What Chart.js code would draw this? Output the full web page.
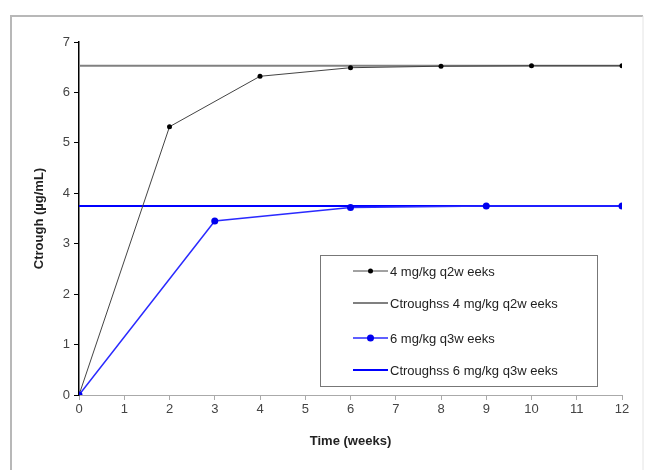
<!DOCTYPE html>
<html>
<head>
<meta charset="utf-8">
<script src="https://cdn.jsdelivr.net/npm/chart.js@4.4.0/dist/chart.umd.min.js"></script>
<style>
  html, body { margin: 0; padding: 0; background: #fff; }
  #wrap { width: 648px; height: 470px; position: relative; }
</style>
</head>
<body>
<div id="wrap"><canvas id="canvas" width="648" height="470"></canvas></div>
<script>
// values
const weeksQ2 = [0, 2, 4, 6, 8, 10, 12];
const ctroughQ2 = [0, 5.32, 6.32, 6.49, 6.52, 6.53, 6.53];
const weeksQ3 = [0, 3, 6, 9, 12];
const ctroughQ3 = [0, 3.45, 3.72, 3.75, 3.75];
const ssRange = [0, 12];
const ssQ2 = 6.53;
const ssQ3 = 3.75;
const labels = ['4 mg/kg q2w eeks', 'Ctroughss 4 mg/kg q2w eeks', '6 mg/kg q3w eeks', 'Ctroughss 6 mg/kg q3w eeks'];

const pts = (xs, ys) => xs.map((x, i) => ({ x: x, y: ys[i] }));

// frame round the picture, like the pasted office chart
const framePlugin = {
  id: 'frame',
  beforeDraw(chart) {
    const c = chart.ctx;
    c.save();
    c.fillStyle = '#fff';
    c.fillRect(0, 0, chart.width, chart.height);
    c.strokeStyle = '#b8b8b8';
    c.lineWidth = 2;
    c.beginPath();
    c.moveTo(11, 470);
    c.lineTo(11, 16);
    c.lineTo(643, 16);
    c.stroke();
    c.strokeStyle = '#e4e4e4';
    c.lineWidth = 1;
    c.beginPath();
    c.moveTo(643, 16);
    c.lineTo(643, 470);
    c.stroke();
    c.restore();
  }
};

// boxed legend inside the plot
const boxLegend = {
  id: 'boxLegend',
  afterDatasetsDraw(chart) {
    const c = chart.ctx;
    const box = { x: 320, y: 255, w: 277, h: 131 };
    const rows = [271, 303, 338, 370];
    c.save();
    c.fillStyle = '#fff';
    c.fillRect(box.x, box.y, box.w, box.h);
    c.strokeStyle = '#777';
    c.lineWidth = 1;
    c.strokeRect(box.x + 0.5, box.y + 0.5, box.w, box.h);
    chart.data.datasets.forEach((ds, i) => {
      const y = rows[i];
      c.strokeStyle = ds.borderColor;
      c.lineWidth = ds.borderWidth;
      c.beginPath();
      c.moveTo(353, y);
      c.lineTo(388, y);
      c.stroke();
      if (ds.pointRadius > 0) {
        c.fillStyle = ds.pointBackgroundColor;
        c.beginPath();
        c.arc(370.5, y, ds.pointRadius, 0, Math.PI * 2);
        c.fill();
      }
      c.fillStyle = '#222';
      c.font = '13px "Liberation Sans", Arial, sans-serif';
      c.textBaseline = 'middle';
      c.fillText(ds.label, 390, y + 1);
    });
    c.restore();
  }
};

new Chart(document.getElementById('canvas').getContext('2d'), {
  type: 'line',
  data: {
    datasets: [
      {
        label: labels[0],
        data: pts(weeksQ2, ctroughQ2),
        borderColor: '#444',
        borderWidth: 1,
        pointRadius: 2.5,
        pointBackgroundColor: '#000',
        pointBorderWidth: 0,
        order: 1
      },
      {
        label: labels[1],
        data: pts(ssRange, [ssQ2, ssQ2]),
        borderColor: '#808080',
        borderWidth: 2,
        pointRadius: 0,
        order: 3
      },
      {
        label: labels[2],
        data: pts(weeksQ3, ctroughQ3),
        borderColor: '#2a2aff',
        borderWidth: 1.5,
        pointRadius: 3.5,
        pointBackgroundColor: '#0000ee',
        pointBorderWidth: 0,
        order: 0
      },
      {
        label: labels[3],
        data: pts(ssRange, [ssQ3, ssQ3]),
        borderColor: '#0000ff',
        borderWidth: 2,
        pointRadius: 0,
        order: 2
      }
    ]
  },
  options: {
    responsive: false,
    animation: false,
    layout: { padding: { left: 28, top: 42, right: 26, bottom: 0 } },
    plugins: {
      legend: { display: false },
      tooltip: { enabled: false }
    },
    scales: {
      x: {
        type: 'linear',
        min: 0,
        max: 12,
        afterFit: (s) => { s.height = 75; },
        ticks: {
          stepSize: 1,
          color: '#444',
          padding: 2,
          font: { family: '"Liberation Sans", Arial, sans-serif', size: 13 }
        },
        grid: { drawOnChartArea: false, drawTicks: true, tickLength: 5, color: '#aaa' },
        border: { color: '#aaa', width: 1 },
        title: {
          display: true,
          text: 'Time (weeks)',
          color: '#222',
          padding: { top: 0, bottom: 21 },
          font: { family: '"Liberation Sans", Arial, sans-serif', size: 13, weight: 'bold' }
        }
      },
      y: {
        min: 0,
        max: 7,
        afterFit: (s) => { s.width = 51; },
        ticks: {
          stepSize: 1,
          color: '#444',
          padding: 4,
          font: { family: '"Liberation Sans", Arial, sans-serif', size: 13 }
        },
        grid: { drawOnChartArea: false, drawTicks: true, tickLength: 5, color: '#000' },
        border: { color: '#000', width: 1.5 },
        title: {
          display: true,
          text: 'Ctrough (µg/mL)',
          color: '#222',
          padding: 4,
          font: { family: '"Liberation Sans", Arial, sans-serif', size: 13, weight: 'bold' }
        }
      }
    }
  },
  plugins: [framePlugin, boxLegend]
});
</script>
</body>
</html>
